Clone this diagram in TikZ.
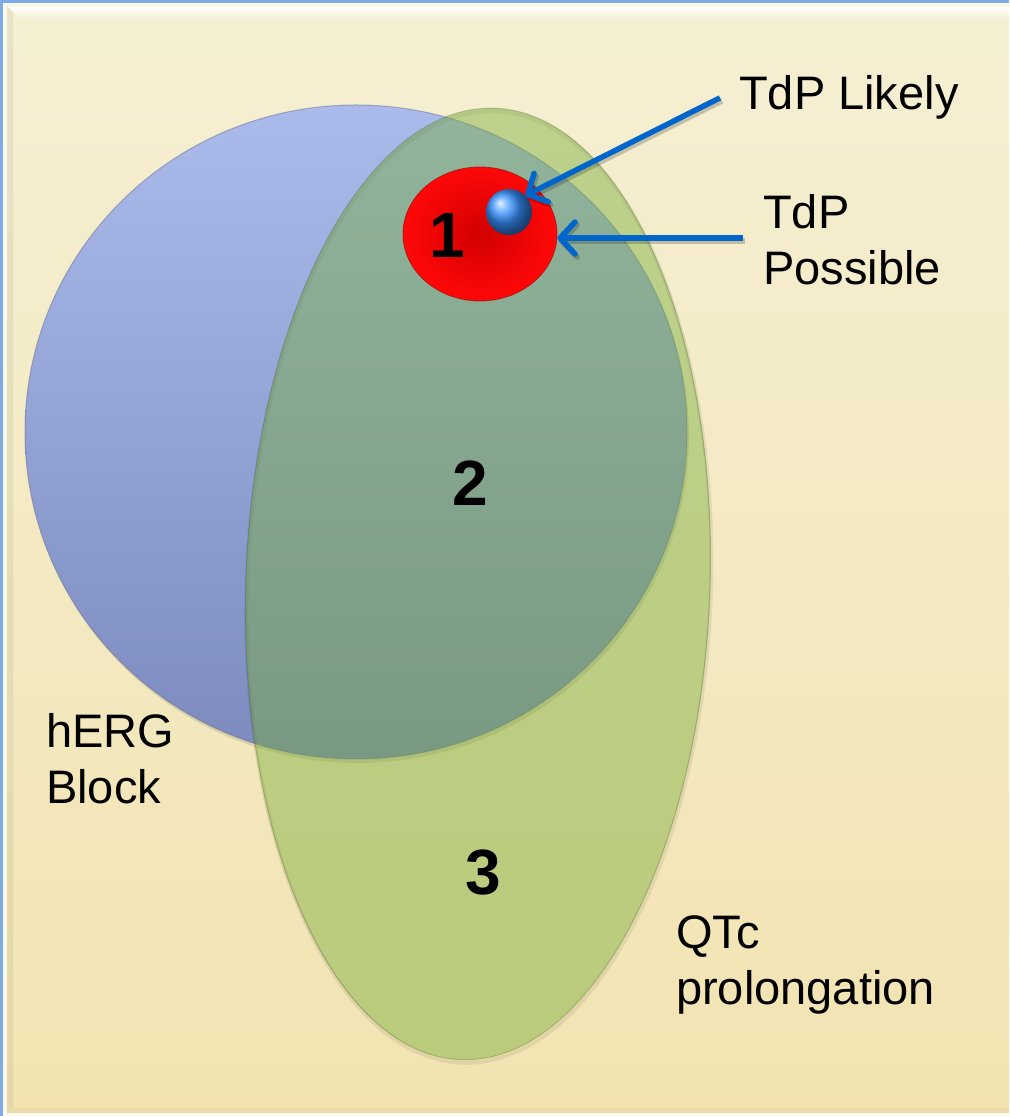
\documentclass[tikz,border=0pt]{standalone}
\usepackage{fontspec}
\setmainfont{Liberation Sans}
\usetikzlibrary{arrows.meta,shapes.geometric,shadings}
\definecolor{frameblue}{RGB}{125,172,228}
\definecolor{bgtop}{RGB}{245,239,211}
\definecolor{bgbot}{RGB}{242,227,177}
\definecolor{venblueA}{RGB}{170,187,235}
\definecolor{venblueB}{RGB}{124,138,190}
\definecolor{vengreen}{RGB}{118,173,55}
\definecolor{arrowblue}{RGB}{0,102,204}
\definecolor{redin}{RGB}{210,0,0}
\definecolor{redout}{RGB}{255,8,8}
\definecolor{ballblue}{RGB}{55,145,255}
\begin{document}
\begin{tikzpicture}[x=1pt,y=1pt,
  lbl/.style={inner sep=0pt, align=left, font=\fontsize{47}{56}\selectfont},
  num/.style={inner sep=0pt, font=\fontsize{64}{64}\selectfont\bfseries},
  pointer/.style={draw=arrowblue, line width=5.5pt, -{Straight Barb[length=15pt,width=32pt,round]}},
  pshadow/.style={draw=black, draw opacity=0.2, line width=5.5pt, -{Straight Barb[length=15pt,width=32pt,round]}}]
\useasboundingbox (0,0) rectangle (1009,1116);
% frame and background
\fill[frameblue] (0,0) rectangle (1009,1116);
\fill[white!60!bgtop] (2.5,0) rectangle (1009,1113);
\shade[top color=bgtop, bottom color=bgbot] (7,3) rectangle (1009,1110);
\shade[top color=white, bottom color=bgtop] (7,1110) -- (1009,1110) -- (1009,1097) -- (20,1097) -- cycle;
\fill[black, opacity=0.05] (7,3) -- (7,1110) -- (13,1104) -- (13,9) -- cycle;
\fill[black, opacity=0.03] (7,3) -- (1009,3) -- (1009,8) -- (13,8) -- cycle;
% blue circle (hERG block)
\fill[black, opacity=0.10] (358,680) ellipse [x radius=331, y radius=327];
\path[top color=venblueA, bottom color=venblueB, draw=venblueB!80!black, draw opacity=0.5, line width=1pt] (356,684) ellipse [x radius=331, y radius=327];
% green ellipse (QTc prolongation)
\begin{scope}[shift={(478,532)}, rotate=-2]
\path[draw=black, draw opacity=0.07, line width=4pt] (1,-3) ellipse [x radius=232, y radius=476];
\path[fill=vengreen, fill opacity=0.44, draw=vengreen!55!black, draw opacity=0.3, line width=1pt] (0,0) ellipse [x radius=232, y radius=476];
\end{scope}
% red spot and blue ball
\node[ellipse, minimum width=154pt, minimum height=134pt, inner sep=0pt, inner color=redin, outer color=redout, draw=red!60!black, draw opacity=0.6, line width=0.8pt] (riskspot) at (480,882) {};
\node[circle, minimum size=46pt, inner sep=0pt, ball color=ballblue] (tdpball) at (509,904) {};
% region numbers
\node[num] (n1) at (447,881) {1};
\node[num] (n2) at (470,633) {2};
\node[num] (n3) at (483,243) {3};
% labels
\node[lbl, anchor=base west] (likely) at (739,1006) {TdP Likely};
\node[lbl, anchor=north west] (possible) at (763,922) {TdP\\Possible};
\node[lbl, anchor=north west] (herg) at (46,403) {hERG\\Block};
\node[lbl, anchor=north west] (qtc) at (676,201) {QTc\\prolongation};
% arrows
\coordinate (likelyTail) at ([xshift=-19pt]likely.west);
\path ([xshift=-20pt]possible.west) coordinate (possibleW);
\coordinate (possibleTail) at (possibleW |- riskspot.-3);
\draw[pshadow, transform canvas={shift={(2pt,-3pt)}}] (likelyTail) -- (tdpball.45);
\draw[pshadow, transform canvas={shift={(2pt,-3pt)}}] (possibleTail) -- (riskspot.-3);
\draw[pointer] (likelyTail) -- (tdpball.45);
\draw[pointer] (possibleTail) -- (riskspot.-3);
\end{tikzpicture}
\end{document}
